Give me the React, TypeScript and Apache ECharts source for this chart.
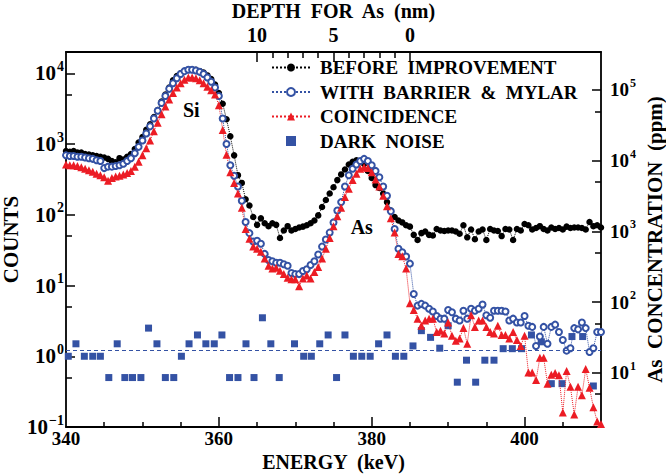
import React, { useEffect, useRef } from 'react';
import * as echarts from 'echarts';

// ---------- data ----------
const energies = [
  340, 340.5, 341, 341.5, 342, 342.5, 343, 343.5, 344, 344.5,
  345, 345.5, 346, 346.5, 347, 347.5, 348, 348.5, 349, 349.5,
  350, 350.5, 351, 351.5, 352, 352.5, 353, 353.5, 354, 354.5,
  355, 355.5, 356, 356.5, 357, 357.5, 358, 358.5, 359, 359.5,
  360, 360.5, 361, 361.5, 362, 362.5, 363, 363.5, 364, 364.5,
  365, 365.5, 366, 366.5, 367, 367.5, 368, 368.5, 369, 369.5,
  370, 370.5, 371, 371.5, 372, 372.5, 373, 373.5, 374, 374.5,
  375, 375.5, 376, 376.5, 377, 377.5, 378, 378.5, 379, 379.5,
  380, 380.5, 381, 381.5, 382, 382.5, 383, 383.5, 384, 384.5,
  385, 385.5, 386, 386.5, 387, 387.5, 388, 388.5, 389, 389.5,
  390, 390.5, 391, 391.5, 392, 392.5, 393, 393.5, 394, 394.5,
  395, 395.5, 396, 396.5, 397, 397.5, 398, 398.5, 399, 399.5,
  400, 400.5, 401, 401.5, 402, 402.5, 403, 403.5, 404, 404.5,
  405, 405.5, 406, 406.5, 407, 407.5, 408, 408.5, 409, 409.5,
  410,
];

const beforeImprovement = [
  794, 776, 794, 759, 759, 724, 708, 692, 676, 661,
  646, 617, 575, 550, 631, 603, 661, 724, 851, 1047,
  1259, 1585, 1905, 2399, 3020, 3981, 5012, 6310, 7943, 9120,
  10000, 10720, 11220, 11220, 11220, 10720, 10230, 9333, 8318, 6918,
  5248, 3715, 2239, 1288, 692, 363, 282, 166, 135, 93,
  72, 89, 76, 69, 76, 72, 47, 60, 69, 60,
  63, 66, 68, 71, 76, 83, 98, 129, 162, 200,
  245, 309, 372, 437, 513, 562, 589, 575, 525, 417,
  331, 263, 240, 200, 151, 115, 93, 83, 78, 71,
  68, 52, 44, 55, 58, 52, 51, 63, 60, 59,
  60, 60, 58, 54, 71, 48, 62, 45, 58, 62,
  44, 63, 60, 59, 50, 63, 62, 44, 63, 60,
  74, 71, 62, 65, 69, 63, 60, 66, 63, 65,
  62, 68, 65, 66, 66, 65, 62, 79, 69, 71,
  66,
];

const withBarrierMylar = [
  692, 676, 676, 661, 661, 646, 631, 617, 589, 575,
  457, 479, 479, 490, 501, 525, 575, 631, 741, 912,
  1122, 1413, 1778, 2291, 2951, 3802, 4786, 6026, 7244, 8511,
  9772, 10720, 11220, 11220, 10960, 10470, 9772, 8710, 7586, 6310,
  4786, 2291, 1000, 501, 355, 251, 158, 79, 55, 42,
  43, 39, 28, 23, 22, 21, 21, 20, 19, 15,
  14.5, 14.5, 16, 17, 19.5, 22, 27.5, 35.5, 44.7, 56,
  78, 115, 151, 251, 363, 447, 513, 575, 617, 575,
  501, 417, 339, 251, 186, 112, 63, 33, 29.5, 25.7,
  20.4, 7.6, 5.2, 5.5, 5.2, 4.7, 4.3, 3.7, 3.4, 3.4,
  4.5, 4.2, 3.4, 3.2, 4.4, 3.4, 4.7, 4.4, 4.7, 5.4,
  3.8, 3.5, 4.4, 4.4, 4.4, 4.3, 3.2, 3.4, 3.0, 3.0,
  3.7, 2.7, 2.6, 1.4, 1.9, 2.6, 1.5, 2.6, 2.8, 2.2,
  1.7, 1.2, 1.3, 2.5, 2.4, 3.0, 2.5, 1.15, 1.3, 2.2,
  2.2,
];

const coincidence = [
  513, 501, 501, 490, 468, 447, 427, 407, 380, 363,
  339, 302, 331, 347, 355, 372, 389, 417, 479, 562,
  692, 871, 1122, 1514, 1995, 2630, 3388, 4266, 5248, 6310,
  7244, 8128, 8710, 8710, 8511, 7943, 7244, 6457, 5754, 5012,
  3548, 1585, 708, 398, 282, 200, 126, 63, 46, 35.5,
  33, 30, 24, 19, 17.4, 17.8, 16.2, 14.5, 12.9, 12.3,
  12.3, 9.8, 12.6, 13.8, 12.6, 15.5, 18.2, 24, 33, 47,
  69, 95, 126, 178, 234, 309, 380, 447, 468, 457,
  398, 316, 251, 186, 132, 89, 56, 28, 26, 17.4,
  5.6, 4.5, 3.4, 2.7, 3.2, 3.4, 3.4, 2.2, 2.3, 2.1,
  3.0, 1.95, 1.66, 1.78, 2.5, 1.5, 3.8, 2.6, 3.2, 3.2,
  2.6, 2.2, 2.1, 2.7, 2.0, 2.0, 1.78, 2.2, 1.7, 1.4,
  1.95, 0.59, 0.59, 0.46, 0.95, 0.95, 0.41, 0.55, 0.58, 0.54,
  0.16, 0.62, 0.37, 0.15, 0.37, 0.28, 0.66, 0.36, 0.19, 0.12,
  0.11,
];

const darkNoiseEnergies = [
  340.3, 341.3, 342.4, 343.5, 344.5, 345.6, 346.7, 347.7, 348.7, 349.8,
  350.8, 351.9, 353.0, 354.1, 355.1, 356.1, 357.2, 358.3, 359.4, 360.4,
  361.4, 362.5, 363.55, 364.6, 365.7, 366.8, 367.9, 369.9, 371.1, 372.1,
  373.2, 374.3, 375.4, 376.5, 377.6, 378.7, 379.8, 380.9, 382.0, 383.1,
  384.2, 385.4, 386.5, 387.7, 388.9, 390.0, 391.2, 392.4, 393.6, 394.8,
  396.0, 397.2, 398.4, 399.6, 400.9, 402.2, 403.5, 404.9, 406.2, 407.6,
  409.0,
];
const darkNoise = [
  1, 1.5, 1, 1, 1, 0.5, 1.5, 0.5, 0.5, 0.5,
  2.5, 1.5, 0.5, 0.5, 1, 1.5, 2, 1.5, 1.5, 2,
  0.5, 0.5, 1.5, 0.5, 3.5, 1.5, 0.5, 1.5, 1, 1,
  1.5, 2, 0.5, 2, 1, 1, 1, 1.5, 2, 1,
  1, 1.4, 2.3, 1.85, 1.3, 2.7, 0.43, 0.88, 0.43, 0.88,
  0.88, 1.28, 1.28, 1.28, 2.0, 1.6, 0.41, 0.41, 1.9, 1.9,
  0.38,
];
const darkNoiseMean = 1.2;

const seriesNames = ['BEFORE  IMPROVEMENT', 'WITH  BARRIER  &  MYLAR', 'COINCIDENCE', 'DARK  NOISE'];

// axes
const energyRange = [340, 410];
const countRange = [0.1, 20000];
const ppmPerCount = 17.2;
const depthZeroEnergy = 385; // keV at depth 0
const keVPerNm = 2;
const countDecades = [0.1, 1, 10, 100, 1000, 10000];
const countMinorTicks = [0.5, 5, 50, 500, 5000];
const ppmDecades = [10, 100, 1000, 10000, 100000];
const ppmMinorTicks = [5, 50, 500, 5000, 50000];
const energyLabels = [340, 360, 380, 400];
const energyMajorTicks = [360, 380, 400];
const energyMinorTicks = [345, 350, 355, 365, 370, 375, 385, 390, 395, 405];
const depthLabels = [0, 5, 10];
const depthMinorTicks = [1, 2, 3, 4, 6, 7, 8, 9];

const annotations = [
  { name: 'Si', energy: 356.4, counts: 3000 },
  { name: 'As', energy: 378.7, counts: 67 },
];

const FONT = "'Liberation Serif', 'Times New Roman', Times, serif";
const BLACK = '#000000';
const BLUE = '#3452a4';
const RED = '#ec1c24';

const supFormatter = (v: number) => {
  const e = Math.round(Math.log10(v));
  const s = e < 0 ? '\u2212' + String(-e) : String(e);
  return `{b|10}{s|${s}}`;
};
const supRich = (size: number) => ({
  b: { fontSize: size, fontWeight: 'bold', fontFamily: FONT, color: BLACK },
  s: { fontSize: Math.round(size * 0.65), fontWeight: 'bold', fontFamily: FONT, color: BLACK, padding: [0, 0, 14, 1] },
});

const axisLine = { show: true, onZero: false, lineStyle: { color: BLACK, width: 1.8 } };
const tickLine = { color: BLACK, width: 1.5 };
const nameStyle = { fontSize: 21, fontWeight: 'bold', fontFamily: FONT, color: BLACK };
const labelStyle = { fontSize: 20, fontWeight: 'bold', fontFamily: FONT, color: BLACK };

export default function App() {
  const ref = useRef<HTMLDivElement>(null);

  useEffect(() => {
    document.body.style.margin = '0';
    if (!ref.current) return;
    const chart = echarts.init(ref.current, null, { renderer: 'svg' });

    const depthMin = (depthZeroEnergy - energyRange[1]) / keVPerNm;
    const depthMax = (depthZeroEnergy - energyRange[0]) / keVPerNm;

    const option: any = {
      animation: false,
      backgroundColor: '#ffffff',
      grid: { left: 66, right: 65, top: 52, bottom: 47, containLabel: false, outerBoundsMode: 'none' },
      legend: {
        orient: 'vertical',
        left: 266,
        top: 53,
        itemWidth: 38,
        itemHeight: 10,
        itemGap: 5.5,
        selectedMode: false,
        data: [
          { name: seriesNames[0] },
          { name: seriesNames[1] },
          { name: seriesNames[2] },
          { name: seriesNames[3], icon: 'path://M0,0L10,0L10,10L0,10Z', itemStyle: { color: BLUE, opacity: 1 } },
        ],
        textStyle: { ...labelStyle, fontSize: 19, padding: [0, 0, 0, 5] },
      },
      xAxis: [
        {
          type: 'value', position: 'bottom', min: energyRange[0], max: energyRange[1],
          axisLine, splitLine: { show: false },
          axisTick: { show: true, inside: true, length: 10, lineStyle: tickLine, customValues: energyMajorTicks },
          axisLabel: { show: true, customValues: energyLabels, margin: 2, ...labelStyle, fontSize: 19 },
          name: 'ENERGY  (keV)', nameLocation: 'middle', nameGap: 25, nameMoveOverlap: false,
          nameTextStyle: { ...nameStyle, fontSize: 20 },
        },
        {
          type: 'value', position: 'top', min: depthMin, max: depthMax, inverse: true,
          axisLine, splitLine: { show: false },
          axisTick: { show: true, inside: true, length: 10, lineStyle: tickLine, customValues: depthLabels },
          axisLabel: { show: true, customValues: depthLabels, margin: 7, ...labelStyle },
          name: 'DEPTH  FOR  As  (nm)', nameLocation: 'middle', nameGap: 31, nameMoveOverlap: false,
          nameTextStyle: { ...nameStyle, fontSize: 20 },
        },
        {
          type: 'value', position: 'bottom', min: energyRange[0], max: energyRange[1],
          axisLine: { show: false, onZero: false }, splitLine: { show: false }, axisLabel: { show: false },
          axisTick: { show: true, inside: true, length: 5, lineStyle: tickLine, customValues: energyMinorTicks },
        },
        {
          type: 'value', position: 'top', min: depthMin, max: depthMax, inverse: true,
          axisLine: { show: false, onZero: false }, splitLine: { show: false }, axisLabel: { show: false },
          axisTick: { show: true, inside: true, length: 6, lineStyle: tickLine, customValues: depthMinorTicks },
        },
      ],
      yAxis: [
        {
          type: 'log', logBase: 10, position: 'left', min: countRange[0], max: countRange[1],
          axisLine, splitLine: { show: false }, minorTick: { show: false },
          axisTick: { show: true, inside: true, length: 9, lineStyle: tickLine, customValues: countDecades },
          axisLabel: { show: true, customValues: countDecades, margin: 2, formatter: supFormatter, rich: supRich(21) },
          name: 'COUNTS', nameLocation: 'middle', nameRotate: 90, nameGap: 45, nameMoveOverlap: false, nameTextStyle: nameStyle,
        },
        {
          type: 'log', logBase: 10, position: 'right', min: countRange[0] * ppmPerCount, max: countRange[1] * ppmPerCount,
          axisLine, splitLine: { show: false }, minorTick: { show: false },
          axisTick: { show: true, inside: true, length: 9, lineStyle: tickLine, customValues: ppmDecades },
          axisLabel: { show: true, customValues: ppmDecades, margin: 9, formatter: supFormatter, rich: supRich(19) },
          name: 'As  CONCENTRATION  (ppm)', nameLocation: 'middle', nameRotate: 90, nameGap: 43, nameMoveOverlap: false, nameTextStyle: nameStyle,
        },
        {
          type: 'log', logBase: 10, position: 'left', min: countRange[0], max: countRange[1],
          axisLine: { show: false, onZero: false }, splitLine: { show: false }, axisLabel: { show: false },
          axisTick: { show: true, inside: true, length: 6, lineStyle: tickLine, customValues: countMinorTicks },
        },
        {
          type: 'log', logBase: 10, position: 'right', min: countRange[0] * ppmPerCount, max: countRange[1] * ppmPerCount,
          axisLine: { show: false, onZero: false }, splitLine: { show: false }, axisLabel: { show: false },
          axisTick: { show: true, inside: true, length: 6, lineStyle: tickLine, customValues: ppmMinorTicks },
        },
      ],
      series: [
        {
          name: seriesNames[0], type: 'line', xAxisIndex: 0, yAxisIndex: 0,
          data: energies.map((e, i) => [e, beforeImprovement[i]]),
          symbol: 'circle', symbolSize: 6.5, showAllSymbol: true,
          itemStyle: { color: BLACK },
          lineStyle: { color: BLACK, width: 1, type: 'dotted' },
          markPoint: {
            silent: true, symbol: 'circle', symbolSize: 1, itemStyle: { color: 'rgba(0,0,0,0)' },
            label: { show: true, position: 'inside', formatter: (p: any) => p.name, ...labelStyle, fontSize: 20 },
            data: annotations.map((a) => ({ name: a.name, coord: [a.energy, a.counts] })),
          },
        },
        {
          name: seriesNames[1], type: 'line', xAxisIndex: 0, yAxisIndex: 0,
          data: energies.map((e, i) => [e, withBarrierMylar[i]]),
          symbol: 'emptyCircle', symbolSize: 6, showAllSymbol: true,
          itemStyle: { color: BLUE, borderWidth: 1.2 },
          lineStyle: { color: BLUE, width: 1, type: 'dotted' },
        },
        {
          name: seriesNames[2], type: 'line', xAxisIndex: 0, yAxisIndex: 0,
          data: energies.map((e, i) => [e, coincidence[i]]),
          symbol: 'triangle', symbolSize: 8, showAllSymbol: true,
          itemStyle: { color: RED },
          lineStyle: { color: RED, width: 1, type: 'dotted' },
        },
        {
          name: seriesNames[3], type: 'scatter', xAxisIndex: 0, yAxisIndex: 0,
          data: darkNoiseEnergies.map((e, i) => [e, darkNoise[i]]),
          symbol: 'rect', symbolSize: 7,
          itemStyle: { color: BLUE, opacity: 1 },
          markLine: {
            silent: true, symbol: 'none', label: { show: false },
            lineStyle: { color: BLUE, type: [4, 3], width: 1 },
            data: [{ yAxis: darkNoiseMean }],
          },
        },
      ],
    };

    chart.setOption(option);
    return () => chart.dispose();
  }, []);

  return <div ref={ref} style={{ width: 666, height: 474 }} />;
}
